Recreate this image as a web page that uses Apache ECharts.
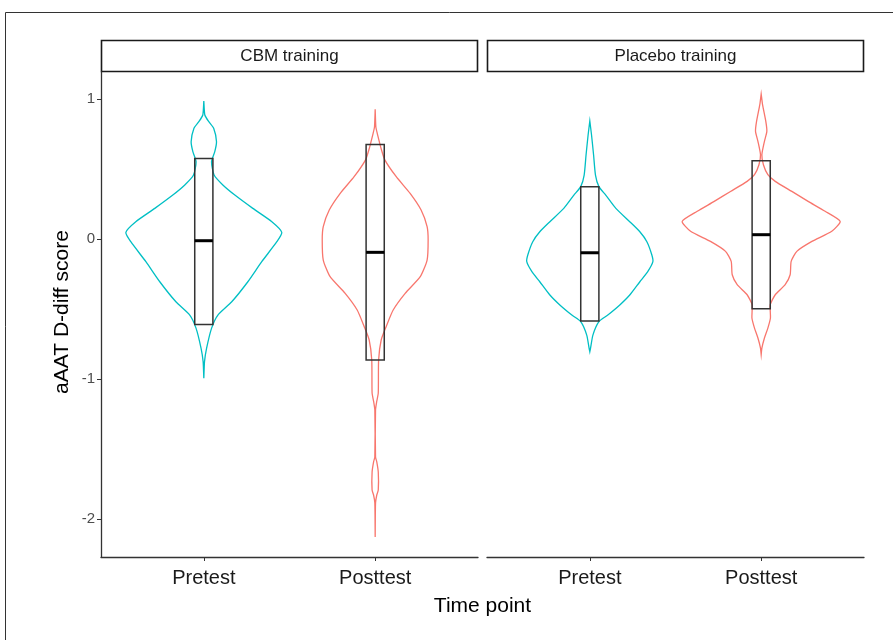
<!DOCTYPE html>
<html>
<head>
<meta charset="utf-8">
<script src="https://cdn.jsdelivr.net/npm/echarts@6/dist/echarts.min.js"></script>
<style>
html,body{margin:0;padding:0;background:#fff;}
#chart{width:893px;height:640px;}
</style>
</head>
<body>
<div id="chart"></div>
<script>
// ---------- data ----------
const categories = ['Pretest', 'Posttest'];
const facets = ['CBM training', 'Placebo training'];
const yTicks = [-2, -1, 0, 1];

// violin outlines: score values and half-widths (category-axis units)
const cbmPreY = [0.986, 0.886, 0.838, 0.790, 0.695, 0.624, 0.552, 0.457, 0.386, 0.314, 0.219, 0.124, 0.048, -0.019, -0.162, -0.305, -0.448, -0.543, -0.638, -0.781, -0.876, -0.995];
const cbmPreW = [0, 0.006, 0.029, 0.058, 0.074, 0.064, 0.045, 0.060, 0.111, 0.181, 0.286, 0.397, 0.455, 0.426, 0.338, 0.257, 0.163, 0.082, 0.045, 0.016, 0.004, 0];

const cbmPostY = [0.926, 0.80, 0.755, 0.636, 0.564, 0.445, 0.326, 0.207, 0.088, -0.007, -0.15, -0.269, -0.388, -0.507, -0.626, -0.721, -0.864, -1.10, -1.16, -1.221, -1.557, -1.59, -1.664, -1.793, -1.83, -1.886, -2.129];
const cbmPostW = [0, 0.004, 0.012, 0.037, 0.057, 0.123, 0.204, 0.268, 0.303, 0.309, 0.303, 0.263, 0.175, 0.105, 0.064, 0.035, 0.020, 0.018, 0.009, 0.002, 0.002, 0.009, 0.018, 0.018, 0.009, 0.002, 0];

const plaPreY = [0.843, 0.743, 0.6, 0.457, 0.374, 0.314, 0.219, 0.124, 0.052, -0.019, -0.114, -0.162, -0.233, -0.305, -0.4, -0.471, -0.543, -0.59, -0.686, -0.781, -0.805];
const plaPreW = [0, 0.010, 0.022, 0.033, 0.053, 0.093, 0.152, 0.233, 0.292, 0.333, 0.362, 0.368, 0.338, 0.292, 0.233, 0.175, 0.105, 0.053, 0.018, 0.004, 0];

const plaPostY = [1.036, 0.960, 0.840, 0.769, 0.698, 0.602, 0.531, 0.460, 0.412, 0.340, 0.269, 0.198, 0.126, 0.055, -0.017, -0.088, -0.160, -0.255, -0.326, -0.398, -0.469, -0.564, -0.636, -0.707, -0.779, -0.826];
const plaPostW = [0, 0.008, 0.027, 0.033, 0.019, 0.004, 0.013, 0.039, 0.082, 0.179, 0.274, 0.373, 0.461, 0.412, 0.296, 0.208, 0.175, 0.169, 0.140, 0.082, 0.053, 0.054, 0.039, 0.019, 0.004, 0];

// box stats: [q1, median, q3]
const cbmPreBox = [-0.61, -0.012, 0.576];
const cbmPostBox = [-0.864, -0.095, 0.676];
const plaPreBox = [-0.586, -0.098, 0.374];
const plaPostBox = [-0.498, 0.031, 0.559];

const colors = ['#00BFC4', '#F8766D'];

// ---------- layout ----------
const G = [{left: 101, top: 72, width: 377, height: 485}, {left: 487, top: 72, width: 377, height: 485}];
const YMIN = -2.271, YMAX = 1.193;
const FONT = 'Liberation Sans, Arial, sans-serif';

const violins = [
  [{y: cbmPreY, w: cbmPreW}, {y: cbmPostY, w: cbmPostW}],
  [{y: plaPreY, w: plaPreW}, {y: plaPostY, w: plaPostW}]
];
const boxes = [[cbmPreBox, cbmPostBox], [plaPreBox, plaPostBox]];

function violinRender(facet) {
  return function (params, api) {
    const ci = api.value(0);
    const v = violins[facet][ci];
    const xc = ci + 1;
    const pts = [];
    for (let i = 0; i < v.y.length; i++) pts.push(api.coord([xc + v.w[i], v.y[i]]));
    for (let i = v.y.length - 1; i >= 0; i--) pts.push(api.coord([xc - v.w[i], v.y[i]]));
    return {
      type: 'polygon',
      shape: {points: pts, smooth: 0.2},
      style: {fill: 'none', stroke: colors[ci], lineWidth: 1.3}
    };
  };
}
function boxRender(facet) {
  return function (params, api) {
    const ci = api.value(0);
    const b = boxes[facet][ci];
    const xc = ci + 1, hw = 0.053;
    const tl = api.coord([xc - hw, b[2]]);
    const br = api.coord([xc + hw, b[0]]);
    const ml = api.coord([xc - hw, b[1]]);
    const mr = api.coord([xc + hw, b[1]]);
    return {
      type: 'group',
      children: [
        {type: 'rect', shape: {x: tl[0], y: tl[1], width: br[0] - tl[0], height: br[1] - tl[1]},
          style: {fill: 'none', stroke: '#333333', lineWidth: 1.5}},
        {type: 'line', shape: {x1: ml[0], y1: ml[1], x2: mr[0], y2: mr[1]},
          style: {stroke: '#000000', lineWidth: 3}}
      ]
    };
  };
}

const xAxes = G.map((g, i) => ({
  type: 'value', gridIndex: i, min: 0.4, max: 2.6,
  splitLine: {show: false},
  axisLine: {show: true, onZero: false, lineStyle: {color: '#333333', width: 1.3}},
  axisTick: {show: true, customValues: [1, 2], length: 4, lineStyle: {color: '#333333'}},
  axisLabel: {customValues: [1, 2], formatter: v => categories[Math.round(v) - 1],
    color: '#1a1a1a', fontSize: 20, fontFamily: FONT, margin: 11}
}));
const yAxes = G.map((g, i) => ({
  type: 'value', gridIndex: i, min: YMIN, max: YMAX,
  splitLine: {show: false},
  axisLine: {show: i === 0, onZero: false, lineStyle: {color: '#333333', width: 1.3}},
  axisTick: {show: i === 0, customValues: yTicks, length: 4, lineStyle: {color: '#333333'}},
  axisLabel: {show: i === 0, customValues: yTicks, color: '#4D4D4D', fontSize: 15, fontFamily: FONT, margin: 6}
}));

const series = [];
for (let f = 0; f < 2; f++) {
  series.push({type: 'custom', xAxisIndex: f, yAxisIndex: f, renderItem: violinRender(f), data: [[0], [1]], silent: true, z: 2});
  series.push({type: 'custom', xAxisIndex: f, yAxisIndex: f, renderItem: boxRender(f), data: [[0], [1]], silent: true, z: 3});
}

const graphics = [
  {type: 'rect', shape: {x: 5.5, y: 12.5, width: 900, height: 700}, style: {fill: 'none', stroke: '#333', lineWidth: 1}, silent: true}
];
G.forEach((g, i) => {
  graphics.push({type: 'rect', shape: {x: g.left + 0.5, y: 40.5, width: g.width - 1, height: g.top - 41},
    style: {fill: '#fff', stroke: '#1a1a1a', lineWidth: 1.6}, silent: true});
  graphics.push({type: 'text', x: g.left + g.width / 2, y: (40 + g.top) / 2,
    style: {text: facets[i], fill: '#1a1a1a', font: '17px ' + FONT, align: 'center', verticalAlign: 'middle'}, silent: true});
});
graphics.push({type: 'text', x: (G[0].left + G[1].left + G[1].width) / 2, y: 606,
  style: {text: 'Time point', fill: '#000', font: '21px ' + FONT, align: 'center', verticalAlign: 'middle'}});
graphics.push({type: 'text', x: 62, y: 312, rotation: Math.PI / 2,
  style: {text: 'aAAT D-diff score', fill: '#000', font: '21px ' + FONT, align: 'center', verticalAlign: 'middle'}});

const chart = echarts.init(document.getElementById('chart'), null, {renderer: 'canvas'});
chart.setOption({
  animation: false,
  backgroundColor: '#fff',
  grid: G.map(g => ({left: g.left, top: g.top, width: g.width, height: g.height})),
  xAxis: xAxes,
  yAxis: yAxes,
  series: series,
  graphic: graphics
});
</script>
</body>
</html>
